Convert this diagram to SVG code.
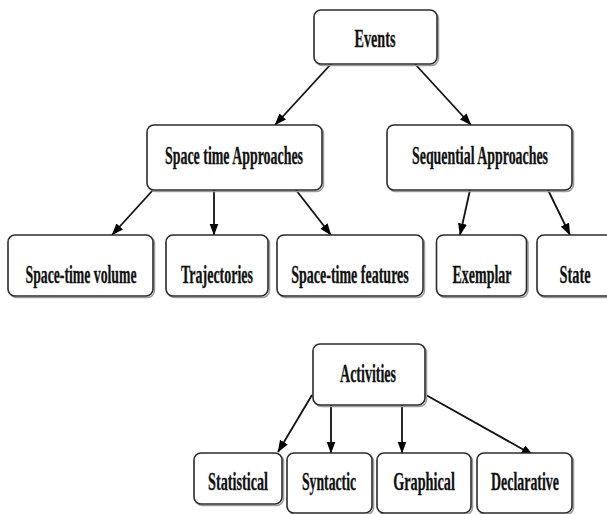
<svg xmlns="http://www.w3.org/2000/svg" width="607" height="514" viewBox="0 0 607 514">
<style>
.box{fill:#fff;stroke:#2b2b2b;stroke-width:1.6}
.sh{fill:none;stroke:#9a9a9a;stroke-width:1.5}
.lbl{font-family:"Liberation Serif","Times New Roman",serif;font-weight:bold;font-size:25px;fill:#111;stroke:#111;stroke-width:0.3;text-anchor:middle}
.edge{stroke:#111;stroke-width:1.8;fill:none;marker-end:url(#ah)}
</style>
<defs>
<marker id="ah" markerWidth="12" markerHeight="10" refX="11.5" refY="5" orient="auto" markerUnits="userSpaceOnUse">
<path d="M0,0.5 L12,5 L0,9.5 Z" fill="#000"/>
</marker>
</defs>
<rect width="607" height="514" fill="#fff"/>
<g id="connectors">
<line class="edge" x1="331" y1="64" x2="275" y2="125"/>
<line class="edge" x1="415" y1="64" x2="471" y2="125"/>
<line class="edge" x1="153" y1="190" x2="112" y2="235"/>
<line class="edge" x1="214" y1="190" x2="214" y2="235"/>
<line class="edge" x1="296" y1="190" x2="331" y2="235"/>
<line class="edge" x1="470" y1="190" x2="460" y2="235"/>
<line class="edge" x1="548" y1="190" x2="570" y2="235"/>
<line class="edge" x1="312" y1="395" x2="278" y2="452"/>
<line class="edge" x1="331" y1="405" x2="331" y2="453"/>
<line class="edge" x1="402" y1="405" x2="402" y2="453"/>
<line class="edge" x1="426" y1="395" x2="533" y2="455"/>
</g>
<g id="events">
<rect class="sh" x="315.5" y="11.5" width="123" height="54" rx="7"/>
<rect class="box" x="314" y="10" width="123" height="54" rx="7"/>
<text class="lbl" transform="translate(375,47) scale(0.567,1)">Events</text>
</g>
<g id="space-time-approaches">
<rect class="sh" x="148.5" y="126.5" width="175" height="65" rx="7"/>
<rect class="box" x="147" y="125" width="175" height="65" rx="7"/>
<text class="lbl" transform="translate(234,164) scale(0.556,1)">Space time Approaches</text>
</g>
<g id="sequential-approaches">
<rect class="sh" x="388.5" y="126.5" width="185" height="65" rx="7"/>
<rect class="box" x="387" y="125" width="185" height="65" rx="7"/>
<text class="lbl" transform="translate(480,164) scale(0.556,1)">Sequential Approaches</text>
</g>
<g id="space-time-volume">
<rect class="sh" x="9.5" y="236.5" width="145" height="61" rx="7"/>
<rect class="box" x="8" y="235" width="145" height="61" rx="7"/>
<text class="lbl" transform="translate(81,283) scale(0.55,1)">Space-time volume</text>
</g>
<g id="trajectories">
<rect class="sh" x="167.5" y="236.5" width="102" height="61" rx="7"/>
<rect class="box" x="166" y="235" width="102" height="61" rx="7"/>
<text class="lbl" transform="translate(217,283) scale(0.559,1)">Trajectories</text>
</g>
<g id="space-time-features">
<rect class="sh" x="278.5" y="236.5" width="146" height="61" rx="7"/>
<rect class="box" x="277" y="235" width="146" height="61" rx="7"/>
<text class="lbl" transform="translate(350,283) scale(0.56,1)">Space-time features</text>
</g>
<g id="exemplar">
<rect class="sh" x="438" y="236.5" width="90" height="61" rx="7"/>
<rect class="box" x="436.5" y="235" width="90" height="61" rx="7"/>
<text class="lbl" transform="translate(482,283) scale(0.559,1)">Exemplar</text>
</g>
<g id="state">
<rect class="sh" x="538.5" y="236.5" width="80" height="61" rx="7"/>
<rect class="box" x="537" y="235" width="80" height="61" rx="7"/>
<text class="lbl" transform="translate(575,283) scale(0.572,1)">State</text>
</g>
<g id="activities">
<rect class="sh" x="314.5" y="345.5" width="112" height="61" rx="7"/>
<rect class="box" x="313" y="344" width="112" height="61" rx="7"/>
<text class="lbl" transform="translate(368,382) scale(0.56,1)">Activities</text>
</g>
<g id="statistical">
<rect class="sh" x="195.5" y="454.5" width="88" height="51" rx="7"/>
<rect class="box" x="194" y="453" width="88" height="51" rx="7"/>
<text class="lbl" transform="translate(238,490) scale(0.568,1)">Statistical</text>
</g>
<g id="syntactic">
<rect class="sh" x="288.5" y="454.5" width="85" height="60" rx="7"/>
<rect class="box" x="287" y="453" width="85" height="60" rx="7"/>
<text class="lbl" transform="translate(329,490) scale(0.55,1)">Syntactic</text>
</g>
<g id="graphical">
<rect class="sh" x="378.5" y="454.5" width="94" height="60" rx="7"/>
<rect class="box" x="377" y="453" width="94" height="60" rx="7"/>
<text class="lbl" transform="translate(424,490) scale(0.57,1)">Graphical</text>
</g>
<g id="declarative">
<rect class="sh" x="478.5" y="454.5" width="95" height="60" rx="7"/>
<rect class="box" x="477" y="453" width="95" height="60" rx="7"/>
<text class="lbl" transform="translate(525,490) scale(0.556,1)">Declarative</text>
</g>
</svg>
